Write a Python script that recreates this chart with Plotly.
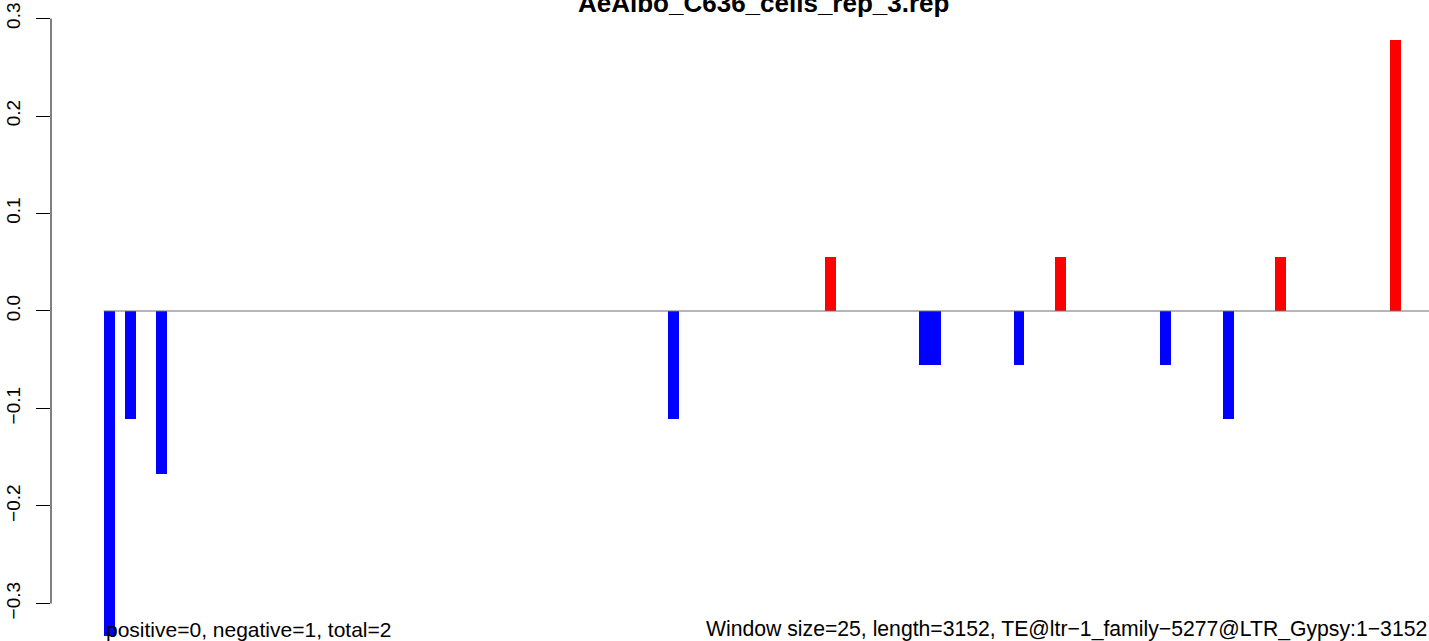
import plotly.graph_objects as go

# ---- data ----
window_starts = [0, 50, 125, 1350, 1725, 1950, 1975, 2175, 2275, 2525, 2675, 2800, 3075]
values = [-0.3333, -0.1111, -0.1667, -0.1111, 0.0556, -0.0556, -0.0556, -0.0556,
          0.0556, -0.0556, -0.1111, 0.0556, 0.2778]
seq_length = 3152
ytick_vals = [-0.3, -0.2, -0.1, 0.0, 0.1, 0.2, 0.3]
ytick_text = ["\u22120.3", "\u22120.2", "\u22120.1", "0.0", "0.1", "0.2", "0.3"]
title_text = "AeAlbo_C636_cells_rep_3.rep"
left_note = "positive=0, negative=1, total=2"
right_note = "Window size=25, length=3152, TE@ltr\u22121_family\u22125277@LTR_Gypsy:1\u22123152"

W, H = 1429, 641
FONT = "Liberation Sans, Arial, Helvetica, sans-serif"

colors = ["#0000FF" if v < 0 else "#FF0000" for v in values]

fig = go.Figure()
fig.add_trace(go.Bar(
    x=window_starts, y=values, width=26, offset=0,
    marker=dict(color=colors, line=dict(width=0)),
    showlegend=False, hoverinfo="skip",
))
fig.add_trace(go.Scatter(
    x=[0, 3170], y=[0, 0], mode="lines",
    line=dict(color="#6e6e6e", width=1.2), showlegend=False, hoverinfo="skip",
))

x0 = -126.08
x1 = x0 + 1378 / 0.41832

fig.update_layout(
    width=W, height=H,
    margin=dict(l=51, r=0, t=0, b=0, autoexpand=False),
    paper_bgcolor="white", plot_bgcolor="white",
    bargap=0,
    font=dict(family=FONT, color="black"),
    xaxis=dict(range=[x0, x1], visible=False, fixedrange=True),
    yaxis=dict(
        range=[-0.3385, 0.319], showgrid=False, zeroline=False, showline=False,
        tickmode="array", tickvals=ytick_vals, ticktext=ytick_text,
        ticks="outside", ticklen=14, tickwidth=1, tickcolor="black",
        tickangle=-90, tickfont=dict(size=19, family=FONT, color="black"),
        ticklabelstandoff=8,
        automargin=False, fixedrange=True,
    ),
    shapes=[dict(type="line", xref="paper", yref="y", x0=0, x1=0, y0=-0.3, y1=0.3,
                 line=dict(color="black", width=1))],
    annotations=[
        dict(text="<b>" + title_text + "</b>", xref="paper", yref="paper",
             x=(763 - 51) / 1378, y=1 - 3 / H, xanchor="center", yanchor="middle",
             showarrow=False, font=dict(size=26, family=FONT, color="black")),
        dict(text=left_note, xref="x", yref="paper", x=0, y=1 - 629 / H,
             xanchor="left", yanchor="middle", showarrow=False,
             font=dict(size=21, family=FONT, color="black")),
        dict(text=right_note, xref="paper", yref="paper", x=(1429 - 51) / 1378, y=1 - 629 / H,
             xanchor="right", yanchor="middle", showarrow=False,
             font=dict(size=21.2, family=FONT, color="black")),
    ],
)

fig.write_html("out.html", config={"displayModeBar": False},
               post_script="document.body.style.margin='0px';")
